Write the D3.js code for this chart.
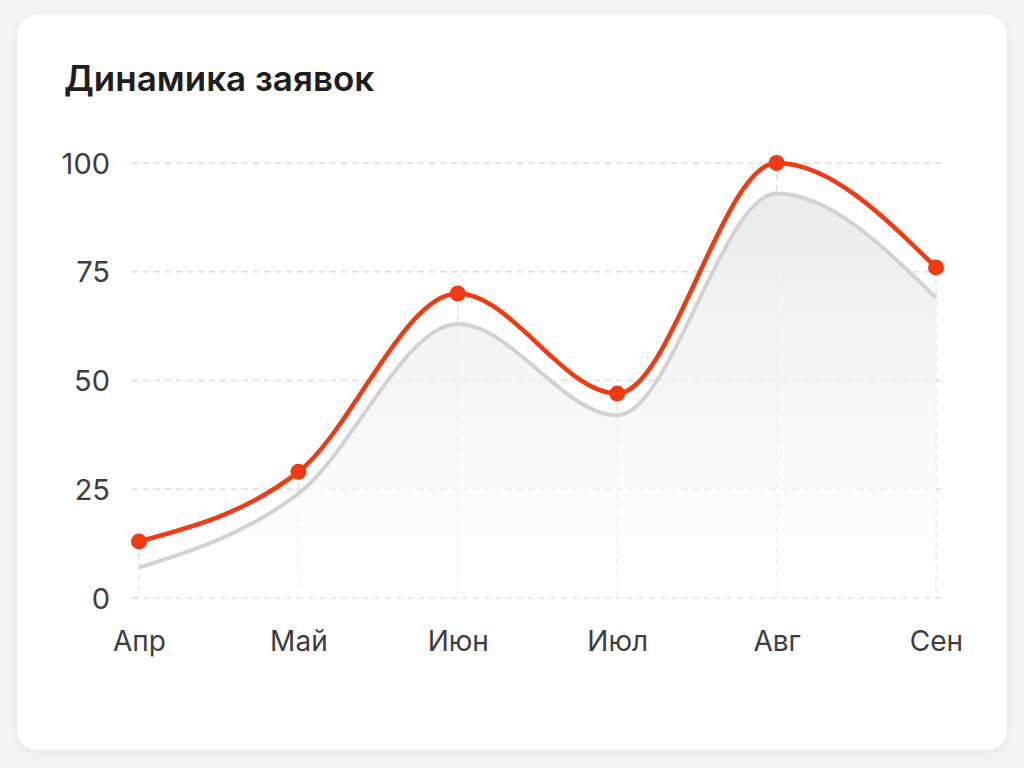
<!DOCTYPE html>
<html>
<meta charset="utf-8">
<style>
html, body { margin: 0; padding: 0; background: #f3f3f3; }
svg { display: block; }
.tick text { font-family: Inter, Roboto, "Noto Sans", sans-serif; fill: #3d3d3d; }
.grid line { stroke: #dcdcdc; stroke-width: 1.3; stroke-dasharray: 6 5; }
</style>
<body>
<script src="https://d3js.org/d3.v7.min.js"></script>
<script>

var months = ['Апр', 'Май', 'Июн', 'Июл', 'Авг', 'Сен'];
var requests = [13, 29, 70, 47, 100, 76];
var baseline = [7, 24, 63, 42, 93, 69];
var yTicks = [0, 25, 50, 75, 100];

var W = 1024, H = 768;
var svg = d3.select("body").append("svg").attr("width", W).attr("height", H);
var defs = svg.append("defs");

var shadow = defs.append("filter").attr("id", "shadow")
	.attr("x", "-5%").attr("y", "-5%").attr("width", "110%").attr("height", "110%");
shadow.append("feDropShadow").attr("dx", 0).attr("dy", 2).attr("stdDeviation", 5)
	.attr("flood-color", "#000").attr("flood-opacity", 0.06);

var grad = defs.append("linearGradient").attr("id", "areaGrad")
	.attr("x1", 0).attr("y1", 0).attr("x2", 0).attr("y2", 1);
grad.append("stop").attr("offset", "0%").attr("stop-color", "#eaeaea").attr("stop-opacity", 0.95);
grad.append("stop").attr("offset", "100%").attr("stop-color", "#ffffff").attr("stop-opacity", 0.6);

// card
svg.append("rect").attr("x", 17).attr("y", 15).attr("width", 990).attr("height", 735)
	.attr("rx", 20).attr("fill", "#ffffff").attr("filter", "url(#shadow)");

svg.append("text").attr("x", 64).attr("y", 91)
	.style("font-family", "Inter, Roboto, sans-serif")
	.style("font-size", "35px").style("font-weight", 600).style("fill", "#1e1e1e")
	.text("Динамика заявок");

var x = d3.scalePoint().domain(months).range([139, 936]);
var y = d3.scaleLinear().domain([0, 100]).range([598, 163]);

// horizontal grid
svg.append("g").attr("class", "grid")
	.selectAll("line").data(yTicks).join("line")
	.attr("x1", 132).attr("x2", 941)
	.attr("y1", d => y(d)).attr("y2", d => y(d));

// drop lines
svg.append("g").attr("class", "grid")
	.selectAll("line").data(months).join("line")
	.attr("x1", d => x(d)).attr("x2", d => x(d))
	.attr("y1", (d, i) => y(requests[i])).attr("y2", y(0));

var area = d3.area()
	.x((d, i) => x(months[i]))
	.y0(y(0))
	.y1(d => y(d))
	.curve(d3.curveMonotoneX);

var line = d3.line()
	.x((d, i) => x(months[i]))
	.y(d => y(d))
	.curve(d3.curveMonotoneX);

svg.append("path").datum(baseline).attr("d", area).attr("fill", "url(#areaGrad)");
svg.append("path").datum(baseline).attr("d", line)
	.attr("fill", "none").attr("stroke", "#d2d2d2").attr("stroke-width", 4);

svg.append("path").datum(requests).attr("d", line)
	.attr("fill", "none").attr("stroke", "#f03a12").attr("stroke-width", 4.5);

svg.append("g").selectAll("circle").data(requests).join("circle")
	.attr("cx", (d, i) => x(months[i])).attr("cy", d => y(d))
	.attr("r", 8).attr("fill", "#f03a12");

// axes
var yAxis = svg.append("g").attr("transform", "translate(110,0)")
	.call(d3.axisLeft(y).tickValues(yTicks).tickSize(0).tickPadding(0));
yAxis.select(".domain").remove();
yAxis.selectAll("text").style("font-size", "29px").attr("dy", "0.35em");

var xAxis = svg.append("g").attr("transform", "translate(0,623)")
	.call(d3.axisBottom(x).tickSize(0).tickPadding(0));
xAxis.select(".domain").remove();
xAxis.selectAll("text").style("font-size", "28px").attr("dy", "1em");

</script>
</body>
</html>
